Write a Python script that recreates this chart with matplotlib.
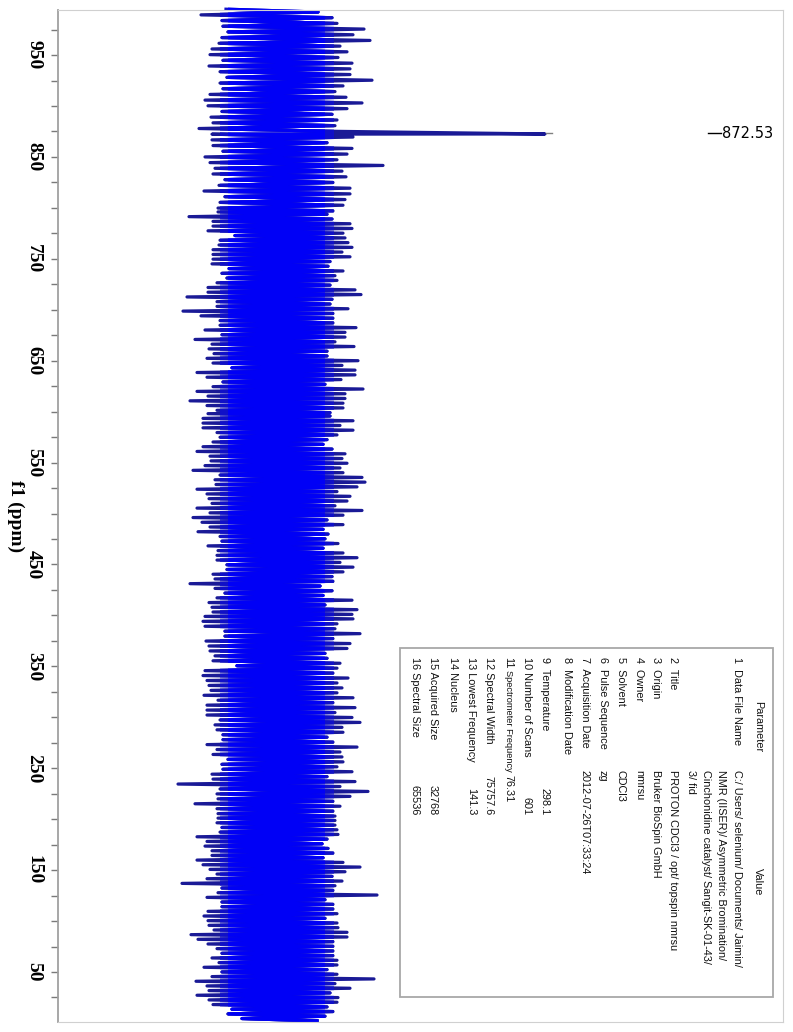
import matplotlib.pyplot as plt
import numpy as np
from matplotlib.ticker import MultipleLocator, FixedLocator
from matplotlib.patches import Rectangle
from matplotlib.lines import Line2D

# noise extremes (left / right excursion per row), top -> bottom
lo_a = [-52, -77, -56, -55, -50, -56, -59, -66, -68, -55, -69, -58, -51, -58, -55, -68, -73, -70,
        -56, -67, -65, -79, -66, -66, -65, -55, -73, -68, -63, -65, -53, -59, -74, -53, -58, -60]
hi_a = [40, 54, 59, 86, 75, 92, 62, 69, 60, 74, 72, 72, 94, 65, 57, 68, 84, 69,
        54, 59, 57, 60, 75, 49, 74, 69, 59, 105, 64, 68, 55, 72, 72, 67, 65, 55]
lo_b = [-60, -89, -65, -65, -70, -43, -58, -59, -65, -65, -65, -66, -49, -56, -51, -61, -70, -70, -91, -61,
        -61, -95, -77, -58, -58, -73, -56, -83, -66, -69, -64, -71, -65, -46, -81, -71, -55, -65, -81, -70,
        -88, -71, -61]
hi_b = [49, 54, 72, 74, 65, 67, 70, 74, 64, 72, 52, 50, 65, 57, 59, 52, 77, 83, 54, 52,
        70, 55, 55, 55, 78, 67, 67, 57, 76, 49, 49, 80, 64, 77, 77, 63, 47, 85, 67, 67,
        65, 65, 52]
lo_c = [-70, -75, -75, -75, -61, -58, -65, -75, -81, -68, -67, -73, -85, -58, -63, -62, -81, -71, -69, -66,
        -81, -68, -85, -76, -68, -80, -58, -56, -70, -60, -61, -61, -51, -51, -65, -63, -88, -63, -53, -61,
        -69, -66, -65]
hi_c = [52, 75, 62, 75, 59, 49, 45, 54, 67, 64, 69, 62, 65, 84, 87, 79, 59, 72, 69, 57,
        84, 65, 49, 65, 45, 50, 47, 60, 45, 65, 79, 62, 75, 65, 54, 55, 42, 54, 45, 74,
        47, 79, 74]
lo_d = [-73, -75, -73, -53, -53, -72, -69, -68, -63, -65, -41, -73, -75, -71, -69, -67, -74, -60, -71, -71,
        -71, -58, -63, -61, -55, -55, -71, -61, -65, -50, -56, -55, -66, -65, -100, -58, -61, -60, -83, -61,
        -60]
hi_d = [75, 59, 57, 82, 55, 72, 69, 47, 49, 62, 59, 55, 70, 59, 64, 59, 75, 55, 77, 57,
        74, 82, 64, 65, 49, 55, 79, 62, 64, 65, 59, 74, 49, 77, 62, 90, 72, 55, 62, 55,
        57]
lo_e = [-60, -61, -56, -58, -81, -71, -73, -66, -66, -81, -75, -68, -61, -71, -96, -56, -60, -71, -56, -56,
        -70, -74, -70, -69, -64, -87, -80, -70, -61, -56, -66, -59, -74, -56, -66, -82, -71, -69, -81, -69,
        -65, -46, -50, -36]
hi_e = [57, 57, 59, 60, 49, 44, 50, 55, 45, 65, 82, 67, 54, 64, 57, 55, 99, 47, 55, 55,
        59, 47, 59, 60, 69, 69, 55, 55, 55, 55, 59, 59, 49, 59, 96, 57, 72, 52, 60, 59,
        49, 55, 47, 39]
# ppm span of each block
spans = [(995, 797), (796, 599), (598, 401), (399, 203), (201, 2)]

peak_ppm = 872.53
peak_height = 267

param_names = ["Data File Name", "Title", "Origin", "Owner", "Solvent", "Pulse Sequence",
               "Acquisition Date", "Modification Date", "Temperature", "Number of Scans",
               "Spectrometer Frequency", "Spectral Width", "Lowest Frequency", "Nucleus",
               "Acquired Size", "Spectral Size"]
param_values = [["C:/ Users/ selenium/ Documents/ Jaimin/", "NMR (IISER)/ Asymmetric Bromination/",
                 "Cinchonidine catalyst/ Sangit-SK-01-43/", "3/ fid"],
                "PROTON CDCl3 / opt/ topspin nmrsu", "Bruker BioSpin GmbH", "nmrsu", "CDCl3", "zg",
                "2012-07-26T07:33:24", "", "298.1", "601", "76.31", "75757.6", "141.3", "", "32768", "65536"]

# build the trace
ppm_parts, int_parts = [], []
for (p0, p1), lo, hi in zip(spans, [lo_a, lo_b, lo_c, lo_d, lo_e], [hi_a, hi_b, hi_c, hi_d, hi_e]):
    n = len(lo)
    v = np.empty(2 * n)
    v[0::2] = lo
    v[1::2] = hi
    ppm_parts.append(np.linspace(p0, p1, 2 * n))
    int_parts.append(v)
ppm = np.append(np.concatenate(ppm_parts), peak_ppm)
inten = np.append(np.concatenate(int_parts), peak_height)
order = np.argsort(-ppm)
ppm, inten = ppm[order], inten[order]

W, H = 793, 1032
fig = plt.figure(figsize=(W / 100, H / 100), dpi=100)


def fx(x):
    return x / W


def fy(y):
    return 1 - y / H


ax = fig.add_axes([fx(58), fy(1022), fx(783) - fx(58), fy(10) - fy(1022)])
# dark thin spikes outside, bright blue where the trace is dense
ax.plot(inten, ppm, color="#1a1a96", lw=2.3)
for (x0, x1, c) in [(-58, 56, "#1010c8"), (-50, 47, "#0000f6")]:
    ln, = ax.plot(inten, ppm, color=c, lw=2.3)
    ln.set_clip_path(Rectangle((x0, -10), x1 - x0, 1020, transform=ax.transData))
ax.set_xlim(-220, 505)
ax.set_ylim(0.9, 994.2)

ax.yaxis.set_major_locator(FixedLocator(np.arange(50, 1000, 100)))
ax.yaxis.set_minor_locator(MultipleLocator(25))
ax.set_xticks([])
ax.tick_params(axis="y", which="both", direction="out", length=5, width=1, color="#7a7a7a", pad=6.5)
for lab in ax.get_yticklabels():
    lab.set_rotation(-90)
    lab.set_fontfamily("Liberation Serif")
    lab.set_fontweight("bold")
    lab.set_fontsize(14)
    lab.set_va("center")
for side in ["top", "right", "bottom"]:
    ax.spines[side].set_color("#d0d0d0")
ax.spines["left"].set_color("#a0a0a0")
ax.spines["left"].set_linewidth(1.3)

fig.text(fx(16), fy(516), "f1 (ppm)", rotation=-90, ha="center", va="center",
         family="Liberation Serif", fontweight="bold", fontsize=14)

# peak label
fig.add_artist(Line2D([fx(546), fx(552)], [fy(133), fy(133)], color="#808080", lw=1))
fig.add_artist(Line2D([fx(708), fx(721)], [fy(133), fy(133)], color="black", lw=1))
fig.text(fx(722), fy(133), "872.53", ha="left", va="center", fontsize=10.5, family="DejaVu Sans")

# parameter table
fig.add_artist(Rectangle((fx(400), fy(997)), fx(773) - fx(400), fy(648) - fy(997),
                         transform=fig.transFigure, fill=False, edgecolor="#a8a8a8", lw=1.3))
tkw = dict(rotation=-90, family="Liberation Sans", fontsize=7.8, color="#111111")
fig.text(fx(758), fy(727), "Parameter", ha="center", va="center", **tkw)
fig.text(fx(758), fy(882), "Value", ha="center", va="center", **tkw)

row_x = [737, 673, 656, 639, 621, 603, 585, 567, 545, 527, 508, 489, 471, 453, 433, 415]
for i, (name, val) in enumerate(zip(param_names, param_values)):
    x = row_x[i]
    sep = "  " if i < 9 else " "
    if name == "Spectrometer Frequency":
        # long name squeezed into its column
        fig.text(fx(x), fy(657), f"{i + 1}", ha="center", va="top", **tkw)
        kw = dict(tkw)
        kw["fontsize"] = 6.7
        fig.text(fx(x), fy(670), name, ha="center", va="top", **kw)
        fig.text(fx(x), fy(775), val, ha="center", va="top", **tkw)
        continue
    fig.text(fx(x), fy(657), f"{i + 1}{sep}{name}", ha="center", va="top", **tkw)
    if isinstance(val, list):
        for j, line in enumerate(val):
            fig.text(fx(x - 15.5 * j), fy(770), line, ha="center", va="top", **tkw)
    elif val.replace(".", "").isdigit():
        fig.text(fx(x), fy(815), val, ha="center", va="bottom", **tkw)
    elif val:
        fig.text(fx(x), fy(770), val, ha="center", va="top", **tkw)

fig.savefig("out.png", dpi=100)
